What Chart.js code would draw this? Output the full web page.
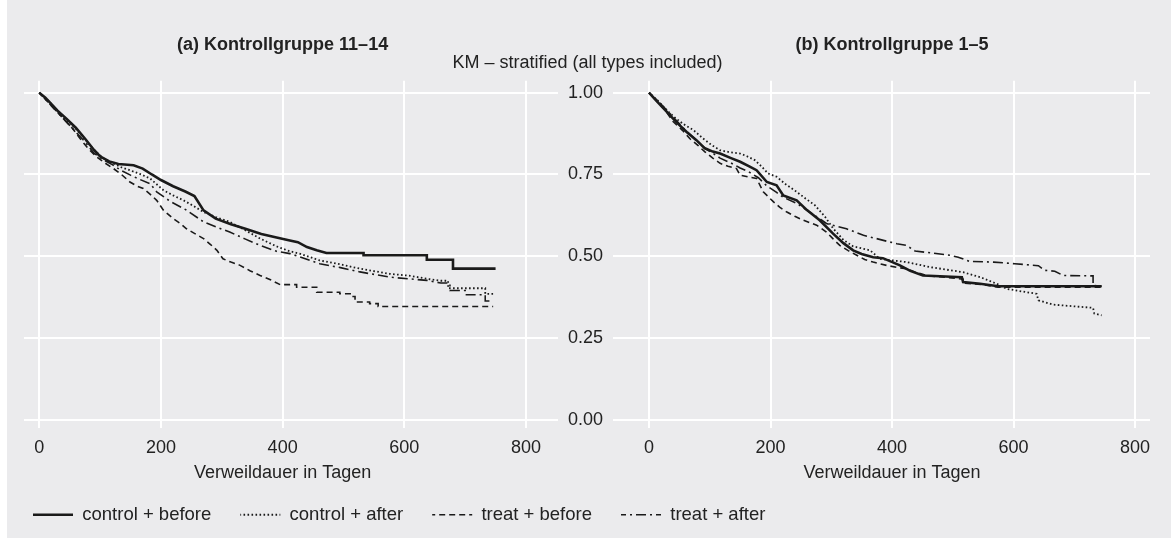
<!DOCTYPE html>
<html>
<head>
<meta charset="utf-8">
<script src="https://cdn.jsdelivr.net/npm/chart.js@4.4.1/dist/chart.umd.min.js"></script>
<style>
  html, body { margin: 0; padding: 0; background: #ffffff; }
  #wrap { position: relative; width: 1171px; height: 538px;
          background: linear-gradient(to right, #ffffff 0, #ffffff 7px, #ebebed 7px); }
  #wrap canvas { position: absolute; left: 0; top: 0; }
</style>
</head>
<body>
<div id="wrap">
  <canvas id="cLegend" width="1171" height="538"></canvas>
  <canvas id="cLeft" width="1171" height="538"></canvas>
  <canvas id="cRight" width="1171" height="538"></canvas>
</div>
<script>
// ---------------- data ----------------
const overallTitle = 'KM – stratified (all types included)';
const panelTitles = ['(a) Kontrollgruppe 11–14', '(b) Kontrollgruppe 1–5'];
const xAxisTitle = 'Verweildauer in Tagen';
const seriesNames = ['control + before', 'control + after', 'treat + before', 'treat + after'];
const xTicks = [0, 200, 400, 600, 800];
const yTicks = [0, 0.25, 0.5, 0.75, 1];

// panel (a): [days, survival]
const aCtrlBefore = [[0,1],[10,0.985],[20,0.965],[30,0.945],[45,0.92],[60,0.893],[75,0.86],[90,0.825],[100,0.805],[115,0.79],[130,0.782],[155,0.778],[170,0.768],[185,0.75],[200,0.733],[220,0.714],[240,0.698],[255,0.684],[270,0.64],[290,0.615],[315,0.598],[340,0.583],[365,0.568],[390,0.557],[410,0.549],[425,0.543],[440,0.528],[456,0.518],[472,0.51],[533,0.51],[533,0.503],[637,0.503],[637,0.489],[680,0.489],[680,0.462],[750,0.462]];
const aCtrlAfter = [[0,1],[15,0.975],[30,0.945],[45,0.915],[60,0.89],[75,0.858],[90,0.825],[105,0.8],[120,0.785],[135,0.772],[149,0.763],[165,0.752],[182,0.738],[193,0.72],[204,0.702],[220,0.686],[237,0.671],[255,0.652],[270,0.635],[290,0.62],[313,0.605],[338,0.58],[363,0.554],[390,0.53],[412,0.515],[428,0.508],[461,0.487],[495,0.475],[527,0.462],[576,0.446],[610,0.44],[637,0.431],[660,0.425],[672,0.425],[672,0.402],[733,0.402],[733,0.385],[746,0.385]];
const aTreatBefore = [[0,1],[15,0.97],[25,0.95],[40,0.92],[55,0.89],[67,0.86],[80,0.83],[94,0.804],[108,0.785],[122,0.768],[135,0.75],[149,0.727],[160,0.715],[171,0.707],[182,0.69],[193,0.671],[204,0.641],[212,0.628],[220,0.615],[232,0.6],[242,0.584],[255,0.57],[270,0.554],[282,0.535],[292,0.518],[302,0.492],[315,0.482],[330,0.472],[347,0.455],[363,0.441],[380,0.428],[396,0.413],[423,0.413],[423,0.405],[456,0.405],[456,0.39],[494,0.39],[494,0.385],[513,0.385],[513,0.377],[519,0.377],[519,0.36],[543,0.36],[543,0.355],[557,0.355],[557,0.346],[746,0.346]];
const aTreatAfter = [[0,1],[15,0.97],[30,0.94],[45,0.91],[60,0.88],[75,0.85],[90,0.815],[105,0.795],[120,0.78],[135,0.762],[150,0.748],[165,0.735],[182,0.722],[193,0.697],[215,0.668],[242,0.641],[270,0.605],[290,0.59],[313,0.574],[338,0.553],[363,0.533],[390,0.515],[412,0.508],[428,0.498],[461,0.477],[495,0.465],[527,0.452],[576,0.436],[637,0.426],[660,0.418],[675,0.418],[675,0.395],[700,0.395],[700,0.382],[733,0.382],[733,0.363],[746,0.363]];

// panel (b)
const bCtrlBefore = [[0,1],[10,0.98],[20,0.96],[29,0.942],[45,0.91],[62,0.88],[78,0.855],[92,0.83],[105,0.82],[117,0.814],[135,0.8],[150,0.789],[165,0.775],[177,0.763],[194,0.727],[210,0.717],[221,0.686],[243,0.671],[260,0.641],[281,0.61],[303,0.569],[320,0.54],[336,0.518],[350,0.507],[369,0.497],[385,0.494],[413,0.472],[430,0.455],[451,0.441],[515,0.436],[517,0.421],[545,0.416],[575,0.408],[745,0.408]];
const bCtrlAfter = [[0,1],[15,0.975],[30,0.945],[45,0.92],[60,0.9],[73,0.886],[89,0.86],[103,0.84],[117,0.824],[133,0.818],[150,0.814],[162,0.805],[174,0.794],[185,0.775],[196,0.753],[210,0.743],[225,0.72],[243,0.697],[258,0.676],[273,0.656],[290,0.62],[303,0.585],[320,0.55],[336,0.53],[364,0.518],[380,0.492],[424,0.482],[462,0.467],[517,0.451],[545,0.436],[572,0.416],[589,0.4],[638,0.385],[641,0.365],[665,0.352],[731,0.342],[733,0.325],[745,0.319]];
const bTreatBefore = [[0,1],[15,0.97],[25,0.95],[40,0.911],[55,0.885],[67,0.86],[80,0.84],[92,0.819],[105,0.8],[117,0.784],[130,0.775],[144,0.768],[150,0.748],[165,0.742],[177,0.738],[188,0.697],[205,0.666],[215,0.65],[227,0.635],[240,0.622],[254,0.61],[276,0.595],[292,0.574],[303,0.553],[314,0.533],[328,0.517],[342,0.503],[355,0.49],[369,0.482],[391,0.472],[410,0.465],[424,0.462],[440,0.45],[460,0.44],[490,0.435],[517,0.43],[517,0.418],[550,0.413],[575,0.405],[745,0.405]];
const bTreatAfter = [[0,1],[15,0.975],[30,0.945],[45,0.915],[60,0.885],[75,0.86],[92,0.83],[105,0.815],[117,0.8],[135,0.785],[150,0.77],[165,0.757],[180,0.74],[194,0.715],[210,0.695],[221,0.68],[243,0.662],[260,0.64],[281,0.615],[292,0.6],[325,0.584],[353,0.564],[391,0.546],[408,0.538],[424,0.533],[438,0.516],[495,0.503],[509,0.497],[528,0.484],[567,0.482],[602,0.477],[641,0.471],[651,0.457],[668,0.454],[682,0.441],[723,0.44],[731,0.44],[731,0.411],[745,0.408]];

// ---------------- styles ----------------
const FONT = "'Liberation Sans', Arial, Helvetica, sans-serif";
const TEXT = '#222222';
const LINE = '#1a1a1a';
const GRID = '#ffffff';
const lineWidths = [2.6, 1.8, 1.6, 1.6];
// patterns chosen so that their period divides twice the legend key width
const lineDashes = [[], [1.6, 2.4], [6, 4], [10, 4, 2, 4]];
const dashOffsets = [0, 0.8, 3, 5];
const legendKeyWidth = 40;

Chart.defaults.font.family = FONT;
Chart.defaults.font.size = 18;
Chart.defaults.color = TEXT;

function makeDatasets(seriesList) {
  return seriesList.map((s, i) => ({
    label: seriesNames[i],
    data: s.map(p => ({ x: p[0], y: p[1] })),
    borderColor: LINE,
    backgroundColor: 'transparent',
    borderWidth: lineWidths[i],
    borderDash: lineDashes[i],
    borderDashOffset: dashOffsets[i],
    borderCapStyle: 'butt',
    borderJoinStyle: 'miter',
    pointRadius: 0,
    tension: 0,
    fill: false
  }));
}

function xScale(min, max) {
  return {
    type: 'linear', min: min, max: max,
    afterBuildTicks: s => { s.ticks = xTicks.map(v => ({ value: v })); },
    grid: { color: GRID, lineWidth: 2, drawTicks: false },
    border: { display: false },
    ticks: { padding: 9, autoSkip: false, maxRotation: 0, color: TEXT, callback: v => String(v) }
  };
}

function yScale(showLabels) {
  return {
    type: 'linear', position: 'left', min: -0.0254, max: 1.0368,
    afterBuildTicks: s => { s.ticks = yTicks.map(v => ({ value: v })); },
    afterFit: s => { s.width = showLabels ? 55 : 0; },
    grid: { color: GRID, lineWidth: 2, drawTicks: false },
    border: { display: false },
    ticks: { display: showLabels, padding: 10, autoSkip: false, color: TEXT, callback: v => Number(v).toFixed(2) }
  };
}

// panel title and x-axis title, centred on the panel's x range
const panelText = {
  id: 'panelText',
  afterDraw(chart, args, opts) {
    const ctx = chart.ctx;
    const xs = chart.scales.x;
    const cx = xs.getPixelForValue((xTicks[0] + xTicks[xTicks.length - 1]) / 2);
    const area = chart.chartArea;
    ctx.save();
    ctx.fillStyle = TEXT;
    ctx.textAlign = 'center';
    ctx.textBaseline = 'middle';
    ctx.font = 'bold 18px ' + FONT;
    ctx.fillText(opts.title, cx, area.top - 36);
    ctx.font = '18px ' + FONT;
    ctx.fillText(opts.xTitle, cx, area.bottom + 45);
    ctx.restore();
  }
};

const common = { responsive: false, animation: false, devicePixelRatio: 1, events: [] };

// background chart: overall title + legend
new Chart(document.getElementById('cLegend'), {
  type: 'line',
  data: { datasets: makeDatasets([[], [], [], []]) },
  options: Object.assign({}, common, {
    layout: { padding: { left: 4, right: 0, top: 0, bottom: 4 } },
    scales: { x: { type: 'linear', display: false }, y: { display: false } },
    plugins: {
      tooltip: { enabled: false },
      title: { display: true, text: overallTitle, color: TEXT,
               font: { size: 18, weight: 'normal' }, padding: { top: 52, bottom: 0 } },
      legend: {
        display: true, position: 'bottom', align: 'start',
        labels: { boxWidth: legendKeyWidth, boxHeight: 0,
                  font: { size: 18.5 }, padding: 29, color: TEXT }
      }
    }
  })
});

// left panel
new Chart(document.getElementById('cLeft'), {
  type: 'line',
  data: { datasets: makeDatasets([aCtrlBefore, aCtrlAfter, aTreatBefore, aTreatAfter]) },
  options: Object.assign({}, common, {
    layout: { padding: { left: 24, right: 613, top: 80.7, bottom: 70.4 } },
    scales: { x: xScale(-25.1, 852.6), y: yScale(false) },
    plugins: { legend: { display: false }, title: { display: false }, tooltip: { enabled: false },
               panelText: { title: panelTitles[0], xTitle: xAxisTitle } }
  }),
  plugins: [panelText]
});

// right panel
new Chart(document.getElementById('cRight'), {
  type: 'line',
  data: { datasets: makeDatasets([bCtrlBefore, bCtrlAfter, bTreatBefore, bTreatAfter]) },
  options: Object.assign({}, common, {
    layout: { padding: { left: 558, right: 21, top: 80.7, bottom: 70.4 } },
    scales: { x: xScale(-59.3, 824.7), y: yScale(true) },
    plugins: { legend: { display: false }, title: { display: false }, tooltip: { enabled: false },
               panelText: { title: panelTitles[1], xTitle: xAxisTitle } }
  }),
  plugins: [panelText]
});
</script>
</body>
</html>
